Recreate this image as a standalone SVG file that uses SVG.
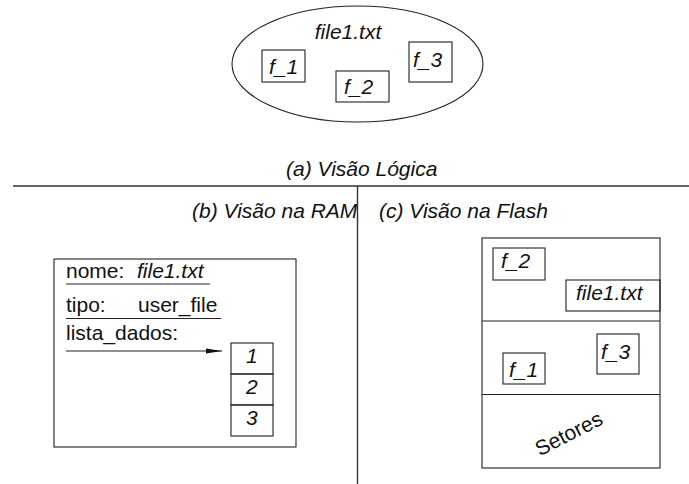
<svg xmlns="http://www.w3.org/2000/svg" width="689" height="484" viewBox="0 0 689 484">
  <style>
    text { font-family: "Liberation Sans", Arial, sans-serif; font-size: 21px; fill: #111; }
    .it { font-style: italic; }
    .box { fill: none; stroke: #222; stroke-width: 1.1; }
    .rule { stroke: #333; stroke-width: 1.4; fill: none; }
    .ul { stroke: #222; stroke-width: 1.1; }
  </style>
  <defs>
    <marker id="arrow" markerWidth="16" markerHeight="6" refX="16" refY="3" orient="auto" markerUnits="userSpaceOnUse">
      <path d="M0,0.5 L16,3 L0,5.5 Z" fill="#111"/>
    </marker>
  </defs>

  <!-- (a) logical view: the file and its fragments -->
  <g id="logical-file">
    <ellipse class="box" cx="357.5" cy="64" rx="125.5" ry="58"/>
    <text class="it" x="348" y="39" text-anchor="middle">file1.txt</text>
  </g>
  <g id="logical-f1">
    <rect class="box" x="262" y="50" width="43" height="32"/>
    <text class="it" x="269" y="74">f_1</text>
  </g>
  <g id="logical-f2">
    <rect class="box" x="336" y="71" width="53" height="31"/>
    <text class="it" x="344" y="94">f_2</text>
  </g>
  <g id="logical-f3">
    <rect class="box" x="409" y="42" width="43" height="40"/>
    <text class="it" x="413" y="67">f_3</text>
  </g>

  <!-- section captions and dividers -->
  <g id="captions">
    <text class="it" x="286" y="176">(a) Visão Lógica</text>
    <text class="it" x="192" y="218">(b) Visão na RAM</text>
    <text class="it" x="379" y="218">(c) Visão na Flash</text>
    <line class="rule" x1="13" y1="186" x2="689" y2="186"/>
    <line class="rule" x1="357.5" y1="186" x2="357.5" y2="484"/>
  </g>

  <!-- (b) RAM view: file descriptor -->
  <g id="ram-descriptor">
    <rect class="box" x="54" y="259" width="242" height="188"/>
    <text x="66" y="277.5">nome:</text>
    <text class="it" x="137" y="277.5">file1.txt</text>
    <line class="ul" x1="66" y1="284" x2="210" y2="284"/>
    <text x="66" y="311.5">tipo:</text>
    <text x="138" y="311.5">user_file</text>
    <line class="ul" x1="66" y1="318.5" x2="221" y2="318.5"/>
    <text x="66" y="340">lista_dados:</text>
  </g>
  <g id="ram-list">
    <rect class="box" x="231" y="343" width="42" height="31"/>
    <rect class="box" x="231" y="374" width="42" height="31"/>
    <rect class="box" x="231" y="405" width="42" height="31"/>
    <text class="it" x="246" y="363">1</text>
    <text class="it" x="246" y="394">2</text>
    <text class="it" x="246" y="425">3</text>
  </g>

  <!-- (c) flash view: sectors holding the fragments -->
  <g id="flash-sectors">
    <rect class="box" x="482" y="238" width="178" height="230"/>
    <line class="ul" x1="482" y1="321" x2="660" y2="321"/>
    <line class="ul" x1="482" y1="394.5" x2="660" y2="394.5"/>
    <text transform="translate(572 440) rotate(-27)" text-anchor="middle">Setores</text>
  </g>
  <g id="flash-f2">
    <rect class="box" x="493" y="248" width="52" height="32"/>
    <text class="it" x="501" y="268">f_2</text>
  </g>
  <g id="flash-file1">
    <rect class="box" x="566" y="280" width="94" height="31"/>
    <text class="it" x="576" y="300">file1.txt</text>
  </g>
  <g id="flash-f3">
    <rect class="box" x="597" y="334" width="42" height="40"/>
    <text class="it" x="601" y="359">f_3</text>
  </g>
  <g id="flash-f1">
    <rect class="box" x="503" y="353" width="42" height="31"/>
    <text class="it" x="509" y="377">f_1</text>
  </g>

  <!-- connectors -->
  <g id="connectors">
    <line class="ul" x1="66" y1="351" x2="222" y2="351" marker-end="url(#arrow)"/>
  </g>
</svg>
